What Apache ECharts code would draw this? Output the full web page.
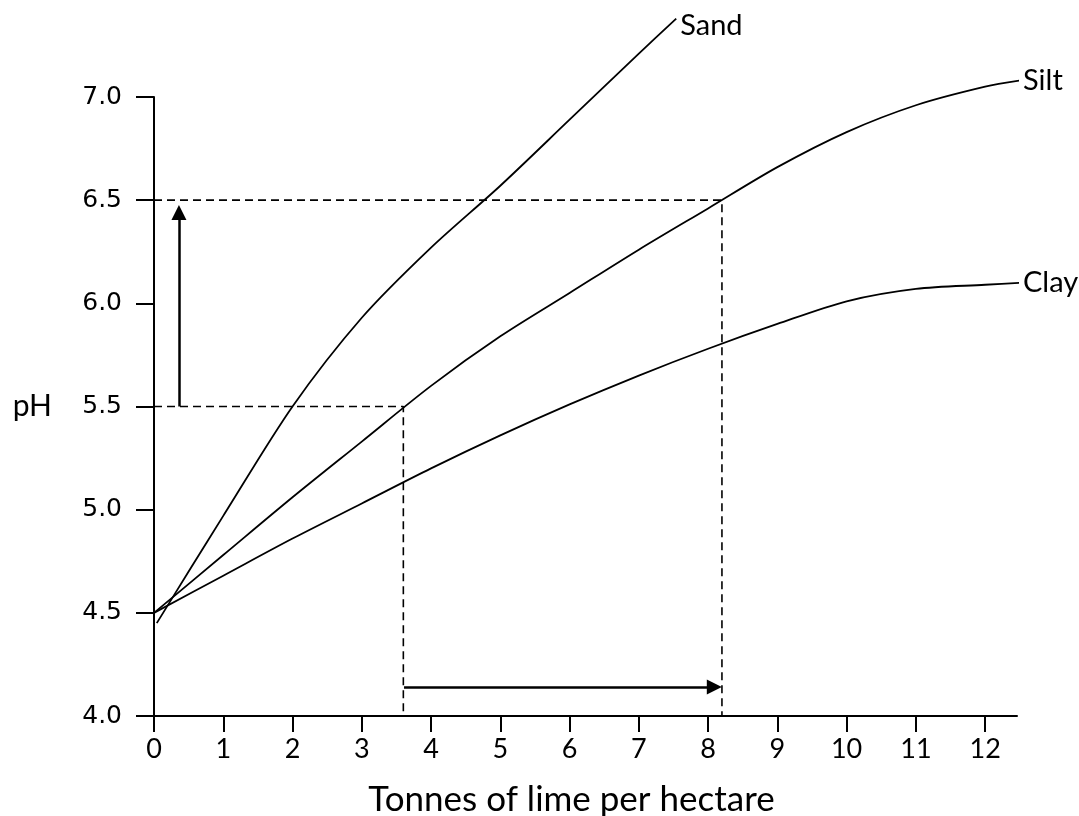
<!DOCTYPE html>
<html>
<head>
<meta charset="UTF-8"/>
<title>pH and lime</title>
<script src="https://cdn.jsdelivr.net/npm/echarts@6/dist/echarts.min.js"></script>
<style>
html, body { margin: 0; padding: 0; background: #fff; }
#placeholder { width: 1079px; height: 816px; }
</style>
</head>
<body>
<div id="placeholder"></div>
<script type="text/javascript">
// tick labels
var xTicks = [0, 1, 2, 3, 4, 5, 6, 7, 8, 9, 10, 11, 12];
// curves: [tonnes of lime, pH]
var sand = [[0.04, 4.45], [0.5, 4.70], [1, 4.97], [2, 5.5], [3, 5.93], [4, 6.27],
  [5, 6.57], [6, 6.89], [7, 7.21], [7.54, 7.38]];
var silt = [[0, 4.5], [1, 4.78], [2, 5.06], [3, 5.33], [4, 5.6], [5, 5.84], [6, 6.05],
  [7, 6.26], [8, 6.46], [9, 6.66], [10, 6.83], [11, 6.96], [12, 7.05], [12.5, 7.08]];
var clay = [[0, 4.5], [1, 4.68], [2, 4.86], [3, 5.03], [4, 5.2], [5, 5.36], [6, 5.51],
  [7, 5.65], [8, 5.78], [9, 5.9], [10, 6.01], [11, 6.07], [12, 6.09], [12.55, 6.1]];
// dashed reading lines
var guideHigh = [[0, 6.5], [8.2, 6.5], [8.2, 4.0]];
var guideLow = [[0, 5.5], [3.6, 5.5], [3.6, 4.0]];
// arrows: from, to
var arrowUp = [[0.36, 5.5], [0.36, 6.44]];
var arrowRight = [[3.61, 4.14], [8.09, 4.14]];

var myChart = echarts.init(document.getElementById('placeholder'));

function curve(name, data, dy) {
  return {
    name: name,
    type: 'line',
    data: data,
    smooth: 0.3,
    symbol: 'none',
    clip: false,
    lineStyle: { color: '#000', width: 1.8 },
    endLabel: {
      show: true,
      formatter: name,
      color: '#000',
      fontFamily: 'Lato',
      fontSize: 29,
      distance: 4,
      offset: [0, dy]
    }
  };
}

function guide(data) {
  return {
    type: 'line',
    data: data,
    symbol: 'none',
    lineStyle: { color: '#000', width: 1.6, type: [8, 5] }
  };
}

function arrow(pts) {
  return {
    type: 'line',
    data: [],
    markLine: {
      silent: true,
      symbol: ['none', 'triangle'],
      symbolSize: [15, 15],
      label: { show: false },
      lineStyle: { color: '#000', width: 2.5, type: 'solid' },
      data: [[{ coord: pts[0] }, { coord: pts[1] }]]
    }
  };
}

var option = {
  animation: false,
  grid: { left: 154, right: 62, top: 97, bottom: 100, outerBoundsMode: 'none', containLabel: false },
  xAxis: {
    type: 'value',
    min: 0,
    max: 12.46,
    name: 'Tonnes of lime per hectare',
    nameLocation: 'middle',
    nameGap: 66,
    nameTextStyle: { color: '#000', fontFamily: 'Lato', fontSize: 35, padding: [0, 28, 0, 0] },
    axisLine: { lineStyle: { color: '#000', width: 2 } },
    axisTick: { length: 16, lineStyle: { color: '#000', width: 2 }, customValues: xTicks },
    axisLabel: { color: '#000', fontFamily: 'Lato', fontSize: 27, margin: 20, customValues: xTicks },
    splitLine: { show: false }
  },
  yAxis: {
    type: 'value',
    min: 4,
    max: 7,
    interval: 0.5,
    name: 'pH',
    nameLocation: 'middle',
    nameRotate: 0,
    nameGap: 102,
    nameTextStyle: { color: '#000', fontFamily: 'Lato', fontSize: 30 },
    axisLine: { show: true, lineStyle: { color: '#000', width: 2 } },
    axisTick: { show: true, length: 18, lineStyle: { color: '#000', width: 2 } },
    axisLabel: {
      color: '#000', fontFamily: 'DejaVu Sans', fontSize: 25, margin: 32,
      formatter: function (v) { return v.toFixed(1); }
    },
    splitLine: { show: false }
  },
  series: [
    guide(guideHigh),
    guide(guideLow),
    curve('Sand', sand, 7),
    curve('Silt', silt, 0),
    curve('Clay', clay, 0),
    arrow(arrowUp),
    arrow(arrowRight)
  ]
};

if (option && typeof option === "object") {
  myChart.setOption(option, true);
}
</script>
</body>
</html>
